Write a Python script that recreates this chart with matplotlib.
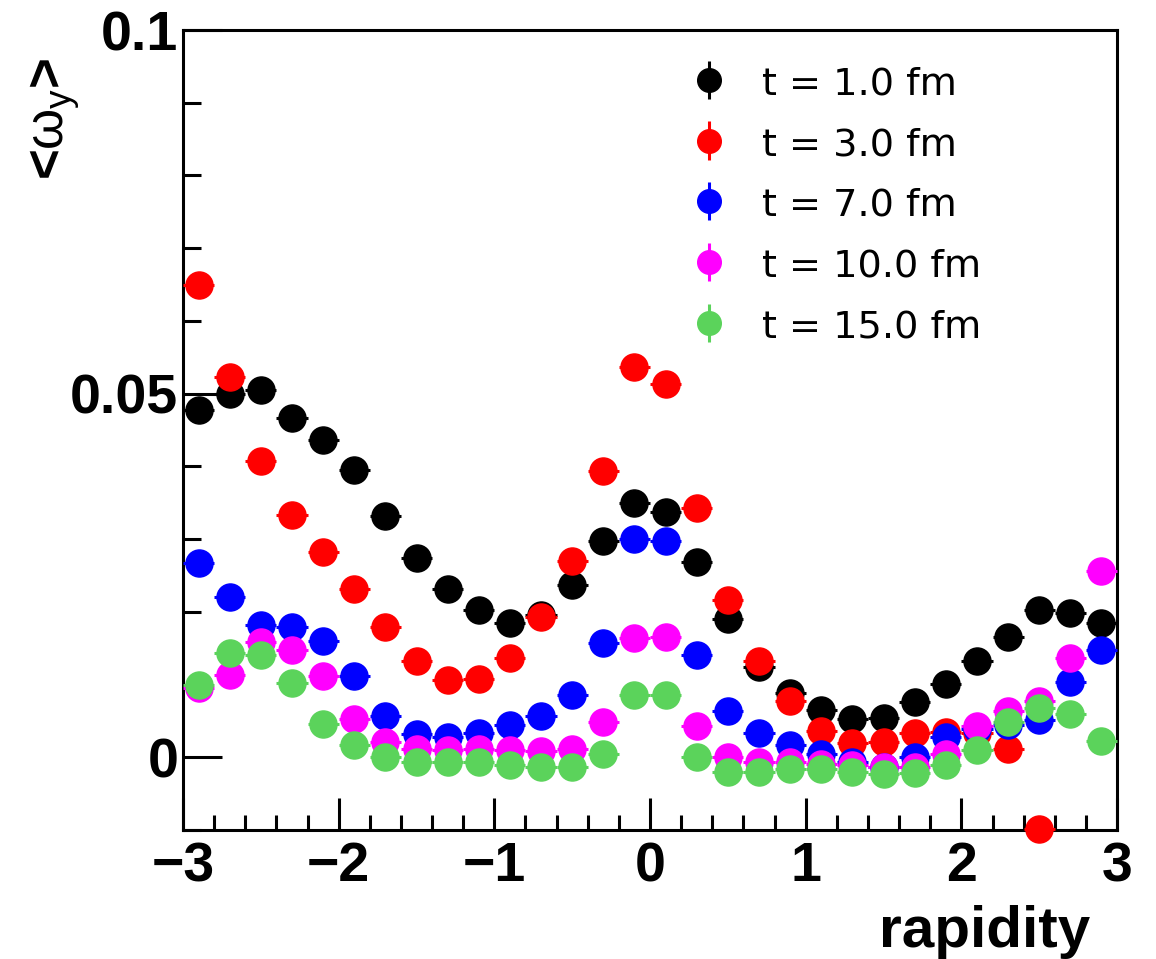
import numpy as np
import matplotlib
matplotlib.use("Agg")
import matplotlib.pyplot as plt
from matplotlib.ticker import MultipleLocator, FixedLocator

rapidity = [-2.9, -2.7, -2.5, -2.3, -2.1, -1.9, -1.7, -1.5, -1.3, -1.1,
            -0.9, -0.7, -0.5, -0.3, -0.1, 0.1, 0.3, 0.5, 0.7, 0.9,
            1.1, 1.3, 1.5, 1.7, 1.9, 2.1, 2.3, 2.5, 2.7, 2.9]

w_t1 = [0.0477, 0.0500, 0.0505, 0.0466, 0.0436, 0.0395, 0.0332, 0.0274, 0.0232, 0.0202,
        0.0184, 0.0196, 0.0237, 0.0298, 0.0349, 0.0337, 0.0268, 0.0190, 0.0124, 0.0089,
        0.0065, 0.0052, 0.0054, 0.0076, 0.0101, 0.0132, 0.0165, 0.0202, 0.0198, 0.0184]
w_t3 = [0.0650, 0.0523, 0.0407, 0.0333, 0.0282, 0.0231, 0.0179, 0.0133, 0.0106, 0.0107,
        0.0137, 0.0193, 0.0270, 0.0394, 0.0536, 0.0513, 0.0343, 0.0216, 0.0132, 0.0077,
        0.0036, 0.0019, 0.0021, 0.0034, 0.0035, 0.0033, 0.0012, -0.0099, np.nan, np.nan]
w_t7 = [0.0267, 0.0220, 0.0182, 0.0179, 0.0160, 0.0112, 0.0057, 0.0032, 0.0028, 0.0034,
        0.0044, 0.0057, 0.0086, 0.0157, 0.0300, 0.0298, 0.0141, 0.0063, 0.0034, 0.0017,
        0.0005, -0.0007, -0.0013, 0.0000, 0.0028, 0.0039, 0.0044, 0.0051, 0.0103, 0.0148]
w_t10 = [0.0095, 0.0113, 0.0158, 0.0148, 0.0112, 0.0052, 0.0021, 0.0011, 0.0010, 0.0011,
         0.0010, 0.0008, 0.0011, 0.0049, 0.0164, 0.0166, 0.0043, 0.0000, -0.0007, -0.0007,
         -0.0009, -0.0010, -0.0014, -0.0013, 0.0005, 0.0043, 0.0064, 0.0078, 0.0137, 0.0256]
w_t15 = [0.0100, 0.0143, 0.0141, 0.0102, 0.0046, 0.0017, 0.0000, -0.0006, -0.0006, -0.0006,
         -0.0010, -0.0013, -0.0014, 0.0004, 0.0085, 0.0086, 0.0000, -0.0020, -0.0020, -0.0016,
         -0.0016, -0.0020, -0.0023, -0.0022, -0.0011, 0.0010, 0.0048, 0.0068, 0.0059, 0.0022]

labels = ["t = 1.0 fm", "t = 3.0 fm", "t = 7.0 fm", "t = 10.0 fm", "t = 15.0 fm"]
colors = ["#000000", "#ff0000", "#0000ff", "#ff00ff", "#5bd35b"]
series = [w_t1, w_t3, w_t7, w_t10, w_t15]
bin_half_width = 0.1

plt.rcParams['font.family'] = ['Liberation Sans', 'DejaVu Sans']
plt.rcParams['mathtext.fontset'] = 'custom'
plt.rcParams['mathtext.rm'] = 'Liberation Sans:bold'
plt.rcParams['mathtext.it'] = 'Liberation Sans'
plt.rcParams['mathtext.bf'] = 'Liberation Sans:bold'

fig = plt.figure(figsize=(11.56, 9.59), dpi=100)
ax = fig.add_axes([0.1583, 0.1345, 0.808, 0.8342])

ms = 19.5
for vals, c in zip(series, colors):
    ax.errorbar(rapidity, vals, xerr=bin_half_width, fmt='o', color=c, ms=ms,
                elinewidth=2.2, capsize=0, clip_on=False, zorder=3)

handles = []
for lab, c in zip(labels, colors):
    h = ax.errorbar([np.nan], [np.nan], yerr=[1.0], fmt='o', color=c, ms=17,
                    elinewidth=2.2, capsize=0, label=lab)
    handles.append(h)

leg = ax.legend(handles=handles, loc='upper left', bbox_to_anchor=(0.526, 0.975),
                frameon=False, prop={'family': 'DejaVu Sans', 'size': 27.5},
                handlelength=1.0, handletextpad=0.9, handleheight=0.9,
                labelspacing=0.62, borderaxespad=0.0)

ax.set_xlim(-3, 3)
ax.set_ylim(-0.01, 0.1)

ax.xaxis.set_major_locator(FixedLocator([-3, -2, -1, 0, 1, 2, 3]))
ax.xaxis.set_minor_locator(MultipleLocator(0.2))
ax.yaxis.set_major_locator(FixedLocator([0, 0.05, 0.1]))
ax.yaxis.set_minor_locator(MultipleLocator(0.01))
ax.set_xticklabels(['\u22123', '\u22122', '\u22121', '0', '1', '2', '3'])
ax.set_yticklabels(['0', '0.05', '0.1'])

ax.tick_params(axis='x', which='major', direction='in', length=23, width=2.2,
               labelsize=40, pad=8, top=False)
ax.tick_params(axis='y', which='major', direction='in', length=28, width=2.2,
               labelsize=40, pad=3.5, right=False)
ax.tick_params(axis='x', which='minor', direction='in', length=11, width=2.2, top=False)
ax.tick_params(axis='y', which='minor', direction='in', length=13, width=2.2, right=False)
for lab in ax.get_xticklabels() + ax.get_yticklabels():
    lab.set_fontweight('bold')
for sp in ax.spines.values():
    sp.set_linewidth(2.2)

ax.set_xlabel('rapidity', fontsize=42, fontweight='bold', loc='right')
ax.xaxis.label.set_va('baseline')
ax.xaxis.set_label_coords(0.971, -0.146)
ax.set_ylabel(r'<$\omega_{y}$>', fontsize=38, fontweight='bold', loc='top')
ax.yaxis.set_label_coords(-0.108, 0.966)

fig.savefig('out.png', dpi=100)
